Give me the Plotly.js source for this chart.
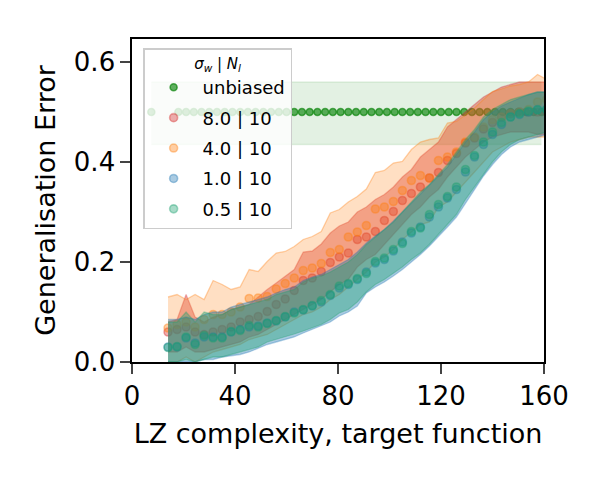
<!DOCTYPE html>
<html>
<head>
<meta charset="utf-8">
<script src="https://cdn.plot.ly/plotly-3.0.1.min.js"></script>
<style>
  html, body { margin: 0; padding: 0; background: #fff; }
  #plot { width: 600px; height: 480px; }
</style>
</head>
<body>
<div id="plot"></div>
<script>
// LZ complexity bins for the biased runs
const lzX = [14, 17.5, 21, 24.5, 28, 31.5, 35, 38.5, 42, 45.5, 49, 52.5, 56, 59.5, 63, 66.5, 70, 73.5,
    77, 80.5, 84, 87.5, 91, 94.5, 98, 101.5, 105, 108.5, 112, 115.5, 119, 122.5, 126, 129.5,
    133, 136.5, 140, 143.5, 147, 150.5, 154, 157.5, 161];

// unbiased run uses its own bins
const lzXUnbiased = [7.5, 18, 21, 24, 27, 30, 33, 36, 39, 42, 45, 48, 51, 54, 57, 60, 63, 66, 69, 72, 75,
    78, 81, 84, 87, 90, 93, 96, 99, 102, 105, 108, 111, 114, 117, 120, 123, 126, 129, 132, 135,
    138, 141, 144, 147, 150, 153, 156, 159];
const unbiasedMean = [0.5, 0.5, 0.5, 0.5, 0.5, 0.5, 0.5, 0.5, 0.5, 0.5, 0.5, 0.5, 0.5, 0.5, 0.5, 0.5, 0.5,
    0.5, 0.5, 0.5, 0.5, 0.5, 0.5, 0.5, 0.5, 0.5, 0.5, 0.5, 0.5, 0.5, 0.5, 0.5, 0.5, 0.5, 0.5, 0.5, 0.5,
    0.5, 0.5, 0.5, 0.5, 0.5, 0.5, 0.5, 0.5, 0.5, 0.5, 0.5, 0.5];
const unbiasedLo = [0.435, 0.435, 0.435, 0.435, 0.435, 0.435, 0.435, 0.435, 0.435, 0.435, 0.435, 0.435,
    0.435, 0.435, 0.435, 0.435, 0.435, 0.435, 0.435, 0.435, 0.435, 0.435, 0.435, 0.435, 0.435, 0.435,
    0.435, 0.435, 0.435, 0.435, 0.435, 0.435, 0.435, 0.435, 0.435, 0.435, 0.435, 0.435, 0.435, 0.435,
    0.435, 0.435, 0.435, 0.435, 0.435, 0.435, 0.435, 0.435, 0.435];
const unbiasedHi = [0.56, 0.56, 0.56, 0.56, 0.56, 0.56, 0.56, 0.56, 0.56, 0.56, 0.56, 0.56, 0.56, 0.56,
    0.56, 0.56, 0.56, 0.56, 0.56, 0.56, 0.56, 0.56, 0.56, 0.56, 0.56, 0.56, 0.56, 0.56, 0.56, 0.56, 0.56,
    0.56, 0.56, 0.56, 0.56, 0.56, 0.56, 0.56, 0.56, 0.56, 0.56, 0.56, 0.56, 0.56, 0.56, 0.56, 0.56, 0.56, 0.56];

// sigma_w = 8.0
const s8Mean = [0.06, 0.065, 0.07, 0.06, 0.055, 0.06, 0.065, 0.07, 0.08, 0.085, 0.091, 0.101, 0.115, 0.126,
    0.143, 0.163, 0.168, 0.181, 0.199, 0.21, 0.218, 0.245, 0.25, 0.261, 0.283, 0.301, 0.323, 0.337, 0.35,
    0.368, 0.379, 0.403, 0.417, 0.438, 0.448, 0.466, 0.479, 0.49, 0.497, 0.5, 0.5, 0.5, 0.5];
const s8Lo = [0.02, 0.02, 0.03, 0.02, 0.02, 0.025, 0.03, 0.035, 0.04, 0.05, 0.055, 0.065, 0.075, 0.085,
    0.095, 0.105, 0.115, 0.125, 0.14, 0.155, 0.165, 0.19, 0.205, 0.215, 0.235, 0.255, 0.275, 0.295, 0.31,
    0.33, 0.345, 0.37, 0.39, 0.41, 0.425, 0.44, 0.45, 0.455, 0.46, 0.46, 0.46, 0.455, 0.455];
const s8Hi = [0.08, 0.085, 0.135, 0.09, 0.08, 0.09, 0.095, 0.105, 0.11, 0.115, 0.13, 0.145, 0.158, 0.172,
    0.185, 0.22, 0.222, 0.236, 0.258, 0.272, 0.28, 0.3, 0.31, 0.325, 0.335, 0.35, 0.37, 0.385, 0.41,
    0.425, 0.44, 0.47, 0.485, 0.5, 0.515, 0.53, 0.54, 0.55, 0.555, 0.56, 0.56, 0.56, 0.56];

// sigma_w = 4.0
const s4Mean = [0.068, 0.075, 0.08, 0.07, 0.085, 0.095, 0.095, 0.1, 0.11, 0.127, 0.128, 0.131, 0.146, 0.157,
    0.168, 0.183, 0.188, 0.197, 0.219, 0.225, 0.25, 0.26, 0.273, 0.306, 0.31, 0.321, 0.343, 0.363, 0.373,
    0.368, 0.403, 0.41, 0.42, 0.44, 0.45, 0.47, 0.485, 0.49, 0.497, 0.5, 0.505, 0.52, 0.525];
const s4Lo = [0.0, 0.0, 0.01, 0.0, 0.01, 0.02, 0.025, 0.03, 0.035, 0.045, 0.05, 0.055, 0.065, 0.075, 0.085,
    0.095, 0.1, 0.11, 0.125, 0.135, 0.15, 0.165, 0.18, 0.2, 0.21, 0.225, 0.245, 0.26, 0.275, 0.28, 0.31,
    0.32, 0.34, 0.36, 0.38, 0.4, 0.42, 0.43, 0.44, 0.445, 0.45, 0.45, 0.45];
const s4Hi = [0.13, 0.135, 0.125, 0.135, 0.125, 0.163, 0.155, 0.145, 0.15, 0.185, 0.181, 0.201, 0.218,
    0.221, 0.231, 0.245, 0.251, 0.261, 0.298, 0.305, 0.32, 0.331, 0.346, 0.379, 0.383, 0.398, 0.401,
    0.425, 0.44, 0.445, 0.448, 0.478, 0.481, 0.495, 0.508, 0.525, 0.541, 0.546, 0.552, 0.555, 0.56,
    0.575, 0.565];

// sigma_w = 1.0
const s1Mean = [0.03, 0.03, 0.048, 0.038, 0.05, 0.05, 0.05, 0.06, 0.065, 0.07, 0.072, 0.078, 0.082, 0.09,
    0.1, 0.104, 0.112, 0.12, 0.133, 0.148, 0.155, 0.165, 0.18, 0.198, 0.205, 0.222, 0.24, 0.258, 0.27,
    0.29, 0.31, 0.328, 0.345, 0.38, 0.41, 0.435, 0.455, 0.475, 0.49, 0.495, 0.5, 0.505, 0.505];
const s1Lo = [0.0, 0.0, 0.0, 0.0, 0.005, 0.005, 0.01, 0.012, 0.015, 0.02, 0.028, 0.035, 0.04, 0.045, 0.05,
    0.058, 0.065, 0.072, 0.08, 0.092, 0.1, 0.112, 0.138, 0.15, 0.16, 0.172, 0.185, 0.2, 0.215, 0.232,
    0.25, 0.27, 0.29, 0.318, 0.345, 0.372, 0.395, 0.415, 0.43, 0.44, 0.445, 0.45, 0.455];
const s1Hi = [0.085, 0.085, 0.09, 0.085, 0.095, 0.1, 0.1, 0.11, 0.115, 0.12, 0.125, 0.13, 0.138, 0.145,
    0.15, 0.163, 0.17, 0.175, 0.185, 0.195, 0.205, 0.22, 0.238, 0.252, 0.265, 0.282, 0.3, 0.318, 0.338,
    0.355, 0.372, 0.39, 0.415, 0.44, 0.46, 0.485, 0.5, 0.512, 0.52, 0.528, 0.535, 0.54, 0.54];

// sigma_w = 0.5
const s05Mean = [0.029, 0.031, 0.05, 0.035, 0.053, 0.048, 0.048, 0.061, 0.063, 0.073, 0.07, 0.077, 0.083,
    0.091, 0.098, 0.105, 0.113, 0.123, 0.135, 0.152, 0.157, 0.167, 0.177, 0.201, 0.208, 0.225, 0.237,
    0.261, 0.268, 0.295, 0.315, 0.331, 0.35, 0.385, 0.413, 0.44, 0.46, 0.479, 0.49, 0.497, 0.502, 0.504,
    0.505];
const s05Lo = [0.0, 0.0, 0.005, 0.0, 0.005, 0.01, 0.01, 0.015, 0.02, 0.025, 0.03, 0.04, 0.045, 0.05, 0.056,
    0.062, 0.068, 0.075, 0.085, 0.098, 0.105, 0.12, 0.14, 0.155, 0.165, 0.178, 0.19, 0.205, 0.218, 0.235,
    0.255, 0.275, 0.295, 0.325, 0.35, 0.375, 0.4, 0.42, 0.435, 0.445, 0.45, 0.455, 0.46];
const s05Hi = [0.08, 0.08, 0.1, 0.08, 0.1, 0.095, 0.095, 0.105, 0.11, 0.115, 0.12, 0.125, 0.135, 0.14,
    0.145, 0.16, 0.168, 0.172, 0.18, 0.19, 0.2, 0.215, 0.235, 0.25, 0.265, 0.28, 0.3, 0.32, 0.34, 0.355,
    0.375, 0.395, 0.42, 0.445, 0.465, 0.49, 0.505, 0.515, 0.525, 0.53, 0.535, 0.54, 0.54];

const legendNames = ['unbiased', '8.0 | 10', '4.0 | 10', '1.0 | 10', '0.5 | 10'];

function rgba(c, a) {
    return 'rgba(' + c.join(',') + ',' + a + ')';
}

// lower edge, upper edge filled down to it, then the mean dots
function series(name, group, color, xs, mean, lo, hi, st) {
    return [
        {
            x: xs, y: lo, mode: 'lines', showlegend: false, hoverinfo: 'skip', legendgroup: group,
            line: {color: rgba(color, st.edge), width: 1.3},
        },
        {
            x: xs, y: hi, mode: 'lines', fill: 'tonexty', fillcolor: rgba(color, st.fill),
            showlegend: false, hoverinfo: 'skip', legendgroup: group,
            line: {color: rgba(color, st.edge), width: 1.3},
        },
        {
            x: xs, y: mean, mode: 'markers', name: name, legendgroup: group,
            marker: {
                size: st.size,
                color: rgba(color, st.dot),
                line: {color: rgba(color, st.dot), width: 1.6},
            },
        },
    ];
}

const green = [0, 128, 0];
const red = [214, 39, 40];
const orange = [255, 127, 14];
const blue = [31, 119, 180];
const mint = [27, 160, 110];

const biasedStyle = {edge: 0.32, fill: 0.38, dot: 0.38, size: 8};

let data = [].concat(
    series(legendNames[0], 'u', green, lzXUnbiased, unbiasedMean, unbiasedLo, unbiasedHi,
        {edge: 0.1, fill: 0.11, dot: 0.62, size: 7}),
    series(legendNames[1], 's8', red, lzX, s8Mean, s8Lo, s8Hi, biasedStyle),
    series(legendNames[2], 's4', orange, lzX, s4Mean, s4Lo, s4Hi,
        {edge: 0.35, fill: 0.25, dot: 0.38, size: 8}),
    series(legendNames[3], 's1', blue, lzX, s1Mean, s1Lo, s1Hi, biasedStyle),
    series(legendNames[4], 's05', mint, lzX, s05Mean, s05Lo, s05Hi, biasedStyle)
);

const font = 'DejaVu Sans, sans-serif';

let layout = {
    width: 600,
    height: 480,
    margin: {l: 132, r: 56, t: 39, b: 118},
    paper_bgcolor: '#fff',
    plot_bgcolor: '#fff',
    font: {family: font, color: '#000', size: 27},
    xaxis: {
        range: [0, 160],
        tick0: 0,
        dtick: 40,
        ticks: 'outside',
        ticklen: 10,
        tickwidth: 1.6,
        showline: true,
        mirror: true,
        linewidth: 1.6,
        linecolor: '#000',
        showgrid: false,
        zeroline: false,
        tickfont: {size: 26},
        title: {text: 'LZ complexity, target function', font: {size: 27}, standoff: 14},
    },
    yaxis: {
        range: [0, 0.646],
        tick0: 0,
        dtick: 0.2,
        tickformat: '.1f',
        ticks: 'outside',
        ticklen: 10,
        tickwidth: 1.6,
        showline: true,
        mirror: true,
        linewidth: 1.6,
        linecolor: '#000',
        showgrid: false,
        zeroline: false,
        tickfont: {size: 26},
        title: {text: 'Generalisation Error', font: {size: 27}, standoff: 10},
    },
    legend: {
        x: 0.027,
        y: 0.972,
        xanchor: 'left',
        yanchor: 'top',
        bgcolor: 'rgba(255,255,255,0.8)',
        bordercolor: '#cccccc',
        borderwidth: 1.5,
        font: {size: 18},
        itemwidth: 48,
        traceorder: 'grouped',
        tracegroupgap: 4,
        title: {text: '<i>σ<sub>w</sub></i> | <i>N<sub>l</sub></i>', font: {size: 15}, side: 'top center'},
    },
    showlegend: true,
};

Plotly.newPlot('plot', data, layout, {staticPlot: true, displayModeBar: false});
</script>
</body>
</html>
